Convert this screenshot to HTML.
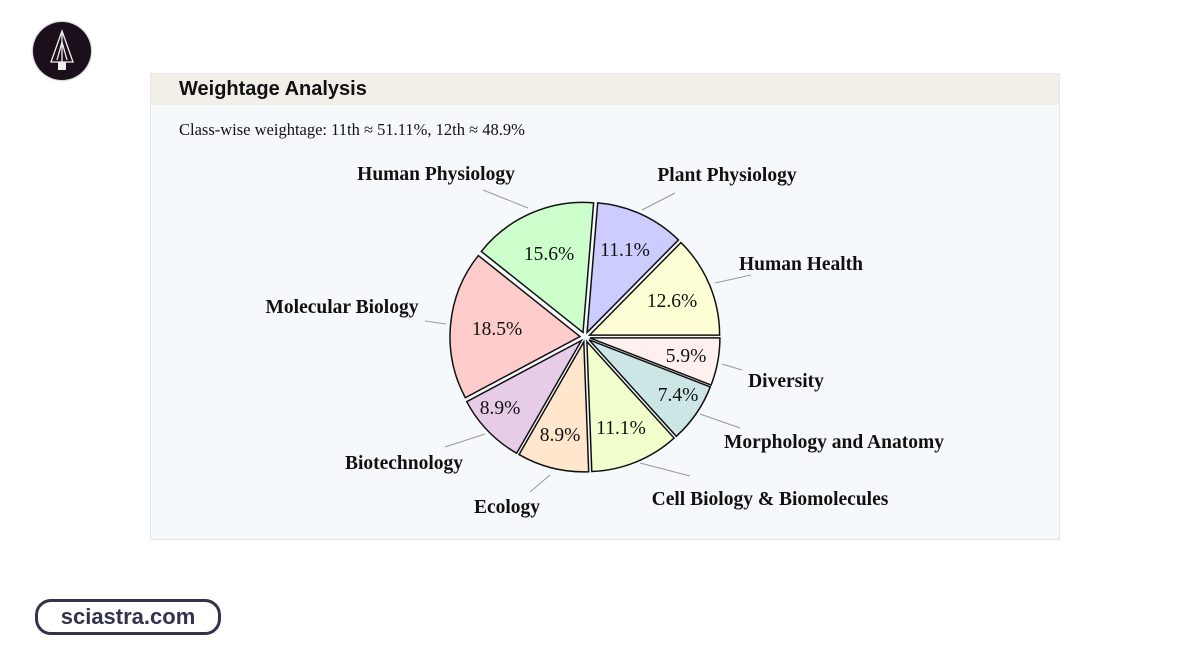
<!DOCTYPE html>
<html><head><meta charset="utf-8"><style>
body{margin:0;width:1200px;height:650px;background:#fff;position:relative;overflow:hidden;font-family:"Liberation Serif",serif}
.card{position:absolute;left:150px;top:73px;width:908px;height:465px;background:#f6f9fc;border:1px solid #e6e6e6}
.hdr{height:31px;background:#f2efe9;font-family:"Liberation Sans",sans-serif;font-weight:bold;font-size:20px;line-height:31px;padding-left:28px;color:#111}
.sub{position:absolute;left:28px;top:46px;font-size:16.5px;color:#111}
svg{position:absolute;left:0;top:0}
.lbl{font-weight:bold;font-size:19.5px;fill:#111;font-family:"Liberation Serif",serif}
.pct{font-size:19.5px;fill:#111;font-family:"Liberation Serif",serif}
.logo{position:absolute;left:33px;top:22px;width:58px;height:58px;border-radius:50%;background:#1a0f1a;box-shadow:0 0 2px #888}
.site{position:absolute;left:35px;top:599px;width:180px;height:30px;border:3px solid #33334d;border-radius:16px;font-family:"Liberation Sans",sans-serif;font-weight:bold;font-size:22px;line-height:30px;text-align:center;color:#33334d}
</style></head><body>
<div class="logo"><svg width="58" height="58" viewBox="0 0 58 58"><g stroke="#eee" stroke-width="1.3" fill="none"><path d="M29 9 L29 44 M29 9 L18 40 L40 40 Z M24 38 L29 20 L34 38"/></g><rect x="25" y="40" width="8" height="8" fill="#eee"/></svg></div>
<div class="card"><div class="hdr">Weightage Analysis</div><div class="sub">Class-wise weightage: 11th ≈ 51.11%, 12th ≈ 48.9%</div></div>
<svg width="1200" height="650" id="s">
<g id="pie" stroke="#111" stroke-width="1.5"></g>
<g stroke="#999" stroke-width="1">
<line x1="483" y1="190" x2="528" y2="208"/><line x1="675" y1="193" x2="642" y2="210"/>
<line x1="751" y1="275" x2="715" y2="283"/><line x1="425" y1="321" x2="446" y2="324"/>
<line x1="722" y1="364" x2="742" y2="370"/><line x1="700" y1="414" x2="740" y2="428"/>
<line x1="445" y1="447" x2="485" y2="434"/><line x1="530" y1="492" x2="550" y2="475"/>
<line x1="640" y1="463" x2="690" y2="476"/>
</g>
<g text-anchor="middle">
<text x="436" y="180" class="lbl">Human Physiology</text>
<text x="727" y="181" class="lbl">Plant Physiology</text>
<text x="801" y="270" class="lbl">Human Health</text>
<text x="342" y="313" class="lbl">Molecular Biology</text>
<text x="786" y="387" class="lbl">Diversity</text>
<text x="834" y="448" class="lbl">Morphology and Anatomy</text>
<text x="404" y="469" class="lbl">Biotechnology</text>
<text x="507" y="513" class="lbl">Ecology</text>
<text x="770" y="505" class="lbl">Cell Biology &amp; Biomolecules</text>
</g>
<g text-anchor="middle">
<text x="549" y="260" class="pct">15.6%</text>
<text x="625" y="256" class="pct">11.1%</text>
<text x="672" y="307" class="pct">12.6%</text>
<text x="497" y="335" class="pct">18.5%</text>
<text x="686" y="362" class="pct">5.9%</text>
<text x="678" y="401" class="pct">7.4%</text>
<text x="500" y="414" class="pct">8.9%</text>
<text x="560" y="441" class="pct">8.9%</text>
<text x="621" y="434" class="pct">11.1%</text>
</g>
</svg>
<div class="site">sciastra.com</div>
<script>
var d=[[12.6,"#ffffd5"],[11.1,"#ccccff"],[15.6,"#ccffcc"],[18.5,"#ffcccc"],[8.9,"#e6cce6"],[8.9,"#ffe6cc"],[11.1,"#f0ffcc"],[7.4,"#cce6e6"],[5.9,"#fff0f0"]];
var cx=585,cy=337,r=130,a=0,g=document.getElementById("pie"),h="";
d.forEach(function(s){var a2=a+s[0]*3.6,m=(a+a2)/2*Math.PI/180,ox=cx+5*Math.cos(m),oy=cy-5*Math.sin(m);
var p1=[ox+r*Math.cos(a*Math.PI/180),oy-r*Math.sin(a*Math.PI/180)],p2=[ox+r*Math.cos(a2*Math.PI/180),oy-r*Math.sin(a2*Math.PI/180)];
h+='<path fill="'+s[1]+'" d="M'+ox+' '+oy+'L'+p1[0]+' '+p1[1]+'A'+r+' '+r+' 0 '+(a2-a>180?1:0)+' 0 '+p2[0]+' '+p2[1]+'Z"/>';a=a2;});
g.innerHTML=h;
</script>
</body></html>
